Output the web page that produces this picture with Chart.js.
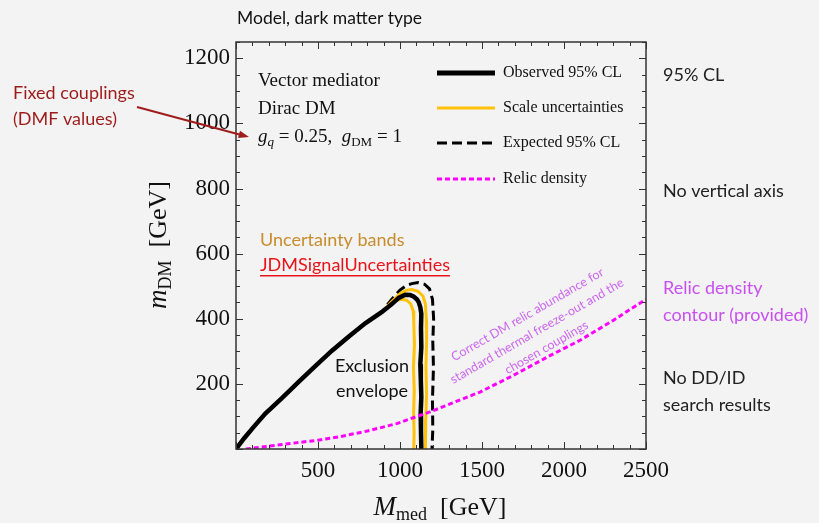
<!DOCTYPE html>
<html>
<head>
<meta charset="utf-8">
<script src="https://cdn.jsdelivr.net/npm/chart.js@4.4.1/dist/chart.umd.min.js"></script>
<style>
    html, body { margin: 0; padding: 0; background: #f3f3f3; }
    #wrap { width: 819px; height: 523px; position: relative; }
</style>
</head>
<body>
<div id="wrap"><canvas id="dmChart" width="819" height="523"></canvas></div>
<script>
// values (GeV)
const xTickValues = [500, 1000, 1500, 2000, 2500];
const yTickValues = [200, 400, 600, 800, 1000, 1200];

const observedX = [0, 50, 108, 179, 280, 382, 485, 585, 690, 788, 890, 950, 992, 1032, 1062, 1084, 1104, 1114, 1124, 1130, 1128, 1130, 1124, 1127, 1130, 1126, 1128, 1130];
const observedY = [0, 33, 68, 109, 156, 206, 255, 302, 346, 386, 421, 445, 464, 474, 473, 468, 459, 451, 435, 415, 370, 313, 260, 211, 160, 109, 55, 0];

const scaleUpX = [0, 50, 108, 179, 280, 382, 485, 585, 690, 788, 890, 950, 1000, 1040, 1073, 1110, 1140, 1155, 1160, 1162, 1158, 1162, 1157, 1155];
const scaleUpY = [0, 33, 68, 109, 156, 206, 255, 302, 346, 386, 421, 453, 477, 488, 490, 484, 470, 445, 400, 330, 250, 170, 90, 0];

const scaleDownX = [0, 50, 108, 179, 280, 382, 485, 585, 690, 788, 890, 950, 972, 1010, 1040, 1065, 1080, 1084, 1088, 1082, 1087, 1083, 1086, 1084];
const scaleDownY = [0, 33, 68, 109, 156, 206, 255, 302, 346, 386, 420, 448, 456, 460, 457, 446, 425, 390, 320, 250, 180, 110, 50, 0];

const expectedX = [0, 50, 108, 179, 280, 382, 485, 585, 690, 788, 890, 950, 1000, 1040, 1073, 1110, 1150, 1180, 1198, 1205, 1200, 1204, 1198, 1200, 1195];
const expectedY = [0, 33, 68, 109, 156, 206, 255, 302, 346, 386, 421, 460, 488, 503, 508, 511, 506, 492, 460, 400, 330, 250, 150, 60, 0];

const relicX = [60, 300, 500, 634, 800, 980, 1183, 1488, 1691, 1900, 2098, 2300, 2500];
const relicY = [0, 15, 27, 38, 55, 78, 114, 175, 226, 283, 334, 395, 460];

const toPoints = (xs, ys) => xs.map((x, i) => ({ x: x, y: ys[i] }));

const SERIF = '"Liberation Serif", "DejaVu Serif", serif';
const SANS = 'Lato, "Open Sans", sans-serif';

// text with subscripts, parts: [text, font, dy]
function drawRich(ctx, parts, x, y, align) {
    let total = 0;
    parts.forEach(p => { ctx.font = p[1]; total += ctx.measureText(p[0]).width; });
    let cx = align === 'center' ? x - total / 2 : x;
    ctx.textAlign = 'left';
    parts.forEach(p => {
        ctx.font = p[1];
        ctx.fillText(p[0], cx, y + (p[2] || 0));
        cx += ctx.measureText(p[0]).width;
    });
}

const framePlugin = {
    id: 'frame',
    afterDraw(chart) {
        const ctx = chart.ctx;
        const a = chart.chartArea;
        const xs = chart.scales.x, ys = chart.scales.y;
        ctx.save();
        ctx.strokeStyle = '#333';
        ctx.lineWidth = 1.5;
        ctx.strokeRect(a.left, a.top, a.right - a.left, a.bottom - a.top);
        ctx.lineWidth = 1;
        ctx.beginPath();
        for (let v = 0; v <= 2500; v += 100) {
            const px = Math.round(xs.getPixelForValue(v)) + 0.5;
            const len = v % 500 === 0 ? 7 : 4;
            ctx.moveTo(px, a.bottom); ctx.lineTo(px, a.bottom - len);
            ctx.moveTo(px, a.top); ctx.lineTo(px, a.top + len);
        }
        for (let v = 0; v <= 1250; v += 50) {
            const py = Math.round(ys.getPixelForValue(v)) + 0.5;
            const len = v % 200 === 0 ? 7 : 4;
            ctx.moveTo(a.left, py); ctx.lineTo(a.left + len, py);
            ctx.moveTo(a.right, py); ctx.lineTo(a.right - len, py);
        }
        ctx.stroke();

        // legend inside the frame
        const rows = [
            { label: 'Observed 95% CL', color: '#000', width: 5, dash: [], y: 73 },
            { label: 'Scale uncertainties', color: '#ffc20a', width: 3, dash: [], y: 108 },
            { label: 'Expected 95% CL', color: '#000', width: 3, dash: [10, 5], y: 143 },
            { label: 'Relic density', color: '#ff00ff', width: 3, dash: [5, 3], y: 179 }
        ];
        rows.forEach(r => {
            ctx.beginPath();
            ctx.setLineDash(r.dash);
            ctx.strokeStyle = r.color;
            ctx.lineWidth = r.width;
            ctx.moveTo(437, r.y); ctx.lineTo(495, r.y);
            ctx.stroke();
            ctx.setLineDash([]);
            ctx.fillStyle = '#111';
            ctx.font = '16px ' + SERIF;
            ctx.textBaseline = 'middle';
            ctx.textAlign = 'left';
            ctx.fillText(r.label, 503, r.y);
        });

        // model text
        ctx.fillStyle = '#111';
        ctx.textBaseline = 'alphabetic';
        ctx.font = '19px ' + SERIF;
        ctx.fillText('Vector mediator', 258, 86);
        ctx.fillText('Dirac DM', 258, 114);
        drawRich(ctx, [
            ['g', 'italic 19px ' + SERIF, 0],
            ['q', 'italic 13px ' + SERIF, 4],
            [' = 0.25,  ', '19px ' + SERIF, 0],
            ['g', 'italic 19px ' + SERIF, 0],
            ['DM', '13px ' + SERIF, 4],
            [' = 1', '19px ' + SERIF, 0]
        ], 258, 142, 'left');

        // axis titles
        drawRich(ctx, [
            ['M', 'italic 27px ' + SERIF, 0],
            ['med', '18px ' + SERIF, 5],
            ['  [GeV]', '26px ' + SERIF, 0]
        ], 440, 515, 'center');
        ctx.save();
        ctx.translate(166, 245);
        ctx.rotate(-Math.PI / 2);
        drawRich(ctx, [
            ['m', 'italic 27px ' + SERIF, 0],
            ['DM', '18px ' + SERIF, 5],
            ['  [GeV]', '26px ' + SERIF, 0]
        ], 0, 0, 'center');
        ctx.restore();

        // annotations
        ctx.textBaseline = 'middle';
        ctx.textAlign = 'left';
        ctx.font = '17.5px ' + SANS;
        ctx.fillStyle = '#111';
        ctx.fillText('Model, dark matter type', 237, 18);
        ctx.font = '18px ' + SANS;
        ctx.fillStyle = '#222';
        ctx.fillText('95% CL', 663, 75);
        ctx.fillText('No vertical axis', 663, 191);
        ctx.fillText('No DD/ID', 663, 378);
        ctx.fillText('search results', 663, 405);
        ctx.fillStyle = '#c94ff0';
        ctx.fillText('Relic density', 663, 288);
        ctx.fillText('contour (provided)', 663, 315);
        ctx.fillStyle = '#9e1b1b';
        ctx.fillText('Fixed couplings', 13, 93);
        ctx.fillText('(DMF values)', 13, 119);
        ctx.fillStyle = '#c88c2c';
        ctx.fillText('Uncertainty bands', 260, 240);
        ctx.fillStyle = '#e8141a';
        ctx.fillText('JDMSignalUncertainties', 260, 265);
        const uw = ctx.measureText('JDMSignalUncertainties').width;
        ctx.fillRect(260, 275, uw, 1.5);
        ctx.fillStyle = '#111';
        ctx.textAlign = 'center';
        ctx.fillText('Exclusion', 372, 366);
        ctx.fillText('envelope', 372, 391);

        // rotated relic note
        ctx.save();
        ctx.translate(537, 331);
        ctx.rotate(-30 * Math.PI / 180);
        ctx.fillStyle = '#cc66ee';
        ctx.font = '12.5px ' + SANS;
        ctx.fillText('Correct DM relic abundance for', 0, -19);
        ctx.fillText('standard thermal freeze-out and the', 0, 0);
        ctx.fillText('chosen couplings', 0, 19);
        ctx.restore();

        // arrow
        ctx.strokeStyle = '#a01c1c';
        ctx.fillStyle = '#a01c1c';
        ctx.lineWidth = 2;
        const x0 = 137, y0 = 107, x1 = 249, y1 = 137;
        const ang = Math.atan2(y1 - y0, x1 - x0);
        ctx.beginPath();
        ctx.moveTo(x0, y0);
        ctx.lineTo(x1 - 8 * Math.cos(ang), y1 - 8 * Math.sin(ang));
        ctx.stroke();
        ctx.beginPath();
        ctx.moveTo(x1, y1);
        ctx.lineTo(x1 - 11 * Math.cos(ang - 0.35), y1 - 11 * Math.sin(ang - 0.35));
        ctx.lineTo(x1 - 11 * Math.cos(ang + 0.35), y1 - 11 * Math.sin(ang + 0.35));
        ctx.closePath();
        ctx.fill();
        ctx.restore();
    }
};

const lineStyle = (color, width, dash) => ({
    borderColor: color,
    borderWidth: width,
    borderDash: dash,
    pointRadius: 0,
    showLine: true,
    fill: false,
    tension: 0
});

// Chart.js paints the first dataset on top
new Chart(document.getElementById('dmChart'), {
    type: 'scatter',
    data: {
        datasets: [
            { label: 'Relic density', data: toPoints(relicX, relicY), ...lineStyle('#ff00ff', 3, [5, 3]) },
            { label: 'Observed 95% CL', data: toPoints(observedX, observedY), ...lineStyle('#000', 4.5, []) },
            { label: 'Scale up', data: toPoints(scaleUpX, scaleUpY), ...lineStyle('#ffc20a', 3, []) },
            { label: 'Scale down', data: toPoints(scaleDownX, scaleDownY), ...lineStyle('#ffc20a', 3, []) },
            { label: 'Expected 95% CL', data: toPoints(expectedX, expectedY), ...lineStyle('#000', 3, [10, 5]) }
        ]
    },
    options: {
        responsive: false,
        animation: false,
        layout: { padding: { left: 0, right: 173, top: 42, bottom: 0 } },
        plugins: { legend: { display: false }, tooltip: { enabled: false } },
        scales: {
            x: {
                type: 'linear', min: 0, max: 2500,
                grid: { display: false, drawTicks: false },
                border: { display: false },
                afterBuildTicks: s => { s.ticks = xTickValues.map(v => ({ value: v })); },
                afterFit: s => { s.height = 74; },
                ticks: { color: '#111', padding: 8, maxRotation: 0, callback: v => String(v), font: { family: SERIF, size: 23 } }
            },
            y: {
                type: 'linear', min: 0, max: 1250,
                grid: { display: false, drawTicks: false },
                border: { display: false },
                afterBuildTicks: s => { s.ticks = yTickValues.map(v => ({ value: v })); },
                afterFit: s => { s.width = 236; },
                ticks: { color: '#111', padding: 6, callback: v => String(v), font: { family: SERIF, size: 23 } }
            }
        }
    },
    plugins: [framePlugin]
});
</script>
</body>
</html>
